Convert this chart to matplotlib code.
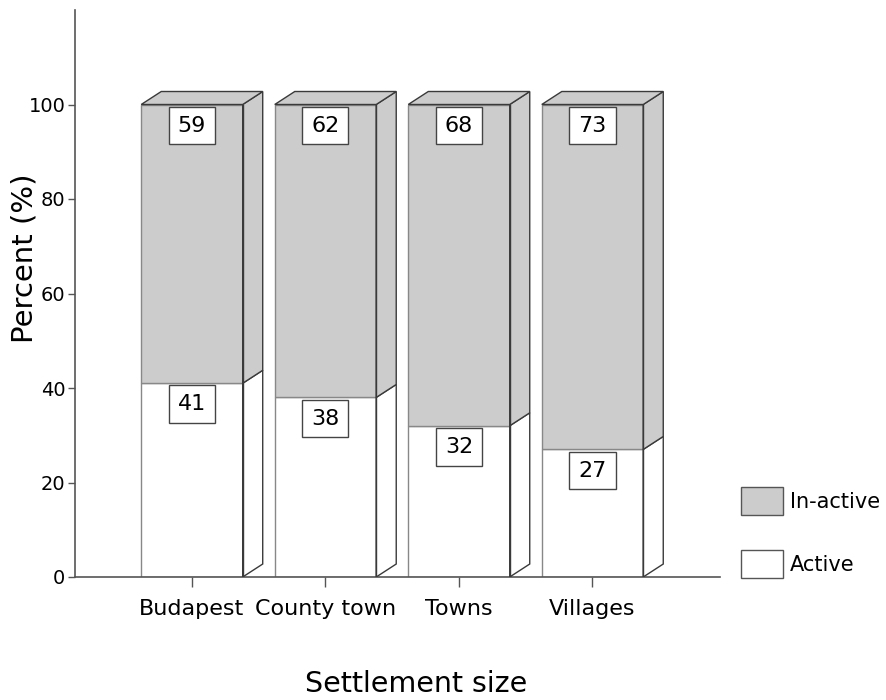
import matplotlib.pyplot as plt
from matplotlib.patches import Polygon, Patch

plt.rcParams['font.family'] = ['DejaVu Sans']

# Share of active / in-active people by settlement size (%)
categories = ['Budapest', 'County town', 'Towns', 'Villages']
active = [41, 38, 32, 27]
inactive = [59, 62, 68, 73]
yticks = [0, 20, 40, 60, 80, 100]

grey = '#cccccc'
edge = '#3a3a3a'
width = 0.76
dx, dy = 0.15, 2.75   # fake depth of the boxes, in data units

fig = plt.figure(figsize=(8.86, 7), dpi=100)
ax = fig.add_axes([75/886, 1-577/700, (720-75)/886, (577-10)/700])

xs = list(range(len(categories)))
tops = [a + b for a, b in zip(active, inactive)]

# front faces
ax.bar(xs, active, width, color='white', edgecolor='#888888', linewidth=1, zorder=2)
ax.bar(xs, inactive, width, bottom=active, color=grey, edgecolor='#888888', linewidth=1, zorder=2)

for x, a, t in zip(xs, active, tops):
    r = x + width/2
    l = x - width/2
    # right side face, split at the active/in-active boundary
    ax.add_patch(Polygon([(r, 0), (r+dx, dy), (r+dx, a+dy), (r, a)],
                         closed=True, fc='white', ec=edge, lw=1, zorder=3))
    ax.add_patch(Polygon([(r, a), (r+dx, a+dy), (r+dx, t+dy), (r, t)],
                         closed=True, fc=grey, ec=edge, lw=1, zorder=3))
    # top face
    ax.add_patch(Polygon([(l, t), (l+dx, t+dy), (r+dx, t+dy), (r, t)],
                         closed=True, fc=grey, ec=edge, lw=1, zorder=3))
    ax.plot([r, r], [0, t], color=edge, lw=1, zorder=4)

# value boxes
box = dict(boxstyle='square,pad=0.4', fc='white', ec='#444444', lw=1)
for x, a, t, v in zip(xs, active, tops, inactive):
    ax.annotate(str(v), xy=(x, t), xytext=(0, -8), textcoords='offset points',
                ha='center', va='top', fontsize=16, bbox=box, zorder=5)
    ax.annotate(str(a), xy=(x, a), xytext=(0, -8), textcoords='offset points',
                ha='center', va='top', fontsize=16, bbox=box, zorder=5)

ax.set_xlim(-0.876, 3.955)
ax.set_ylim(0, 120)
ax.set_yticks(yticks)
ax.set_xticks(xs)
ax.set_xticklabels(categories, fontsize=16)
ax.tick_params(axis='y', labelsize=14, length=5, width=1, color='#555555', pad=2)
ax.tick_params(axis='x', length=7, width=1, color='#555555', pad=9)
for s in ['top', 'right']:
    ax.spines[s].set_visible(False)
for s in ['left', 'bottom']:
    ax.spines[s].set_color('#555555')
    ax.spines[s].set_linewidth(1.2)

ax.set_ylabel('Percent (%)', fontsize=21)
ax.yaxis.set_label_coords(-0.079, 0.563)
ax.yaxis.label.set_va('center')
ax.set_xlabel('Settlement size', fontsize=20.5)
ax.xaxis.set_label_coords(0.529, -0.188)
ax.xaxis.label.set_va('center')

handles = [Patch(fc=grey, ec='#555555', label='In-active'),
           Patch(fc='white', ec='#555555', label='Active')]
ax.legend(handles=handles, loc='upper left', bbox_to_anchor=(741/886, 1-487/700),
          bbox_transform=fig.transFigure, frameon=False, fontsize=15,
          handlelength=2.0, handleheight=1.69, handletextpad=0.35,
          labelspacing=1.7, borderpad=0, borderaxespad=0)

fig.savefig('out.png', dpi=100)
